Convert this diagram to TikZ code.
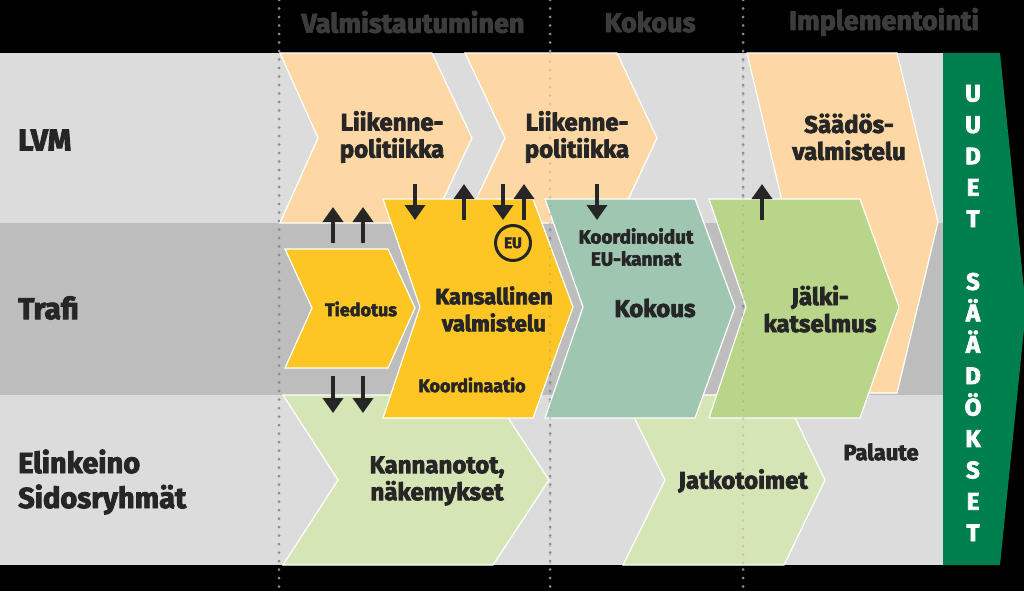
\documentclass[tikz,border=0pt]{standalone}
\usepackage{fontspec}
\setmainfont{Fira Sans}[BoldFeatures={FakeBold=3}]
\usetikzlibrary{arrows.meta}
\definecolor{lanelight}{HTML}{DCDCDC}
\definecolor{lanedark}{HTML}{BDBDBD}
\definecolor{peach}{HTML}{FDD8A4}
\definecolor{gold}{HTML}{FDC624}
\definecolor{teal}{HTML}{9EC6B1}
\definecolor{jalki}{HTML}{B8D58A}
\definecolor{pale}{HTML}{D5E5B5}
\definecolor{uudet}{HTML}{007F4E}
\definecolor{ink}{HTML}{262626}
\definecolor{headink}{HTML}{3C3C3C}
\definecolor{dotgray}{HTML}{8C8C8C}
\tikzstyle{chev}=[draw=white,line width=1.2pt,line join=miter]
\tikzstyle{phase}=[dotgray,line width=3pt,line cap=round,dash pattern=on 0pt off 8.5pt]
\tikzstyle{lanetitle}=[anchor=west,align=left,inner sep=0pt,text=ink,font=\bfseries\fontsize{30}{35}\selectfont]
\tikzstyle{head}=[inner sep=0pt,text=headink,font=\bfseries\fontsize{27}{30}\selectfont]
\tikzstyle{big}=[align=center,inner sep=0pt,text=ink,font=\bfseries\fontsize{24}{27}\selectfont]
\tikzstyle{small}=[align=center,inner sep=0pt,text=ink,font=\bfseries\fontsize{19}{22}\selectfont]
\tikzstyle{line}=[draw=ink,line width=4pt,-{Triangle[width=20pt,length=15pt]}]
\begin{document}
\begin{tikzpicture}[x=1pt,y=-1pt]
  \useasboundingbox (0,0) rectangle (1024,591);
  \fill[black] (0,0) rectangle (1024,591);
  % lanes
  \fill[lanelight] (0,53) rectangle (943,223);
  \fill[lanedark]  (0,223) rectangle (943,395);
  \fill[lanelight] (0,395) rectangle (943,565);
  \fill[uudet] (943,53) -- (1000,53) -- (1026,309) -- (1000,565) -- (943,565) -- cycle;
  % phase lines
  \draw[phase] (279,0) -- (279,591);
  \draw[phase] (550,0) -- (550,591);
  \draw[phase] (743,0) -- (743,591);
  % Elinkeino chevrons
  \draw[chev,fill=pale] (283,395) -- (493,395) -- (549,480) -- (493,565) -- (283,565) -- (338,480) -- cycle;
  \draw[chev,fill=pale] (623,395) -- (784,395) -- (825,480) -- (784,565) -- (623,565) -- (665,480) -- cycle;
  % LVM chevrons
  \draw[chev,fill=peach] (280,53) -- (432,53) -- (472,138) -- (432,223) -- (280,223) -- (318,138) -- cycle;
  \draw[chev,fill=peach] (465,53) -- (617,53) -- (657,138) -- (617,223) -- (465,223) -- (505,138) -- cycle;
  \draw[chev,fill=peach] (747,53) -- (897,53) -- (938,222) -- (897,393) -- (747,393) -- (787,222) -- cycle;
  % Trafi chevrons
  \draw[chev,fill=gold] (285,249) -- (388,249) -- (415,308) -- (388,368) -- (285,368) -- (312,308) -- cycle;
  \draw[chev,fill=gold] (383,199) -- (533,199) -- (573,307) -- (533,418) -- (383,418) -- (420,307) -- cycle;
  \draw[chev,fill=teal] (545,199) -- (695,199) -- (735,307) -- (695,418) -- (545,418) -- (583,307) -- cycle;
  \draw[chev,fill=jalki] (709,199) -- (860,199) -- (899,307) -- (860,418) -- (709,418) -- (746,307) -- cycle;
  % phase lines over the chevrons
  \draw[phase,opacity=0.3] (550,53) -- (550,565);
  \draw[phase,opacity=0.3] (743,53) -- (743,565);
  % headings
  \node[head] (valm) at (413,22) {Valmistautuminen};
  \node[head] (kokoushead) at (650,22) {Kokous};
  \node[head] (impl) at (884,22) {Implementointi};
  % lane titles
  \node[lanetitle] (LVM) at (18,140) {LVM};
  \node[lanetitle,font=\bfseries\fontsize{30}{35}\selectfont] (Trafi) at (18,308) {Trafi};
  \node[lanetitle,font=\bfseries\fontsize{29}{35}\selectfont] (Elinkeino) at (18,482) {Elinkeino\\Sidosryhmät};
  % texts in chevrons
  \node[big] (liik1) at (392,137) {Liikenne-\\politiikka};
  \node[big] (liik2) at (577,137) {Liikenne-\\politiikka};
  \node[big] (saados) at (849,137) {Säädös-\\valmistelu};
  \node[small,font=\bfseries\fontsize{18}{22}\selectfont] (tiedotus) at (361,309) {Tiedotus};
  \node[big,font=\bfseries\fontsize{22}{27}\selectfont] (kansallinen) at (494,309) {Kansallinen\\valmistelu};
  \node[small,font=\bfseries\fontsize{18}{22}\selectfont] (koord) at (472,385) {Koordinaatio};
  \node[small] (eukannat) at (636,247) {Koordinoidut\\EU-kannat};
  \node[big] (kokous) at (655,308) {Kokous};
  \node[big] (jalkikat) at (820,309) {Jälki-\\katselmus};
  \node[big] (kannanotot) at (437,481) {Kannanotot,\\näkemykset};
  \node[big] (jatko) at (743,481) {Jatkotoimet};
  \node[big,font=\bfseries\fontsize{22}{27}\selectfont] (palaute) at (881,452) {Palaute};
  \node[circle,draw=ink,line width=3pt,minimum size=35pt,inner sep=0pt,text=ink,font=\bfseries\fontsize{15}{17}\selectfont] (EU) at (513,243) {EU};
  % uudet saadokset
  \foreach \ch [count=\k from 0] in {U,U,D,E,T,{},S,Ä,Ä,D,Ö,K,S,E,T}
    \node[anchor=base,inner sep=0pt,text=white,font=\bfseries\fontsize{24}{24}\selectfont] (ud\k) at (973,101.5+31.4*\k) {\ch};
  % arrows
  \coordinate (up1start) at (333,243);  \coordinate (up1end) at (333,207);
  \coordinate (up2start) at (363,243);  \coordinate (up2end) at (363,207);
  \coordinate (dn1start) at (333,376);  \coordinate (dn1end) at (333,413);
  \coordinate (dn2start) at (363,376);  \coordinate (dn2end) at (363,413);
  \coordinate (dn3start) at (415,184);  \coordinate (dn3end) at (415,220);
  \coordinate (up3start) at (464,220);  \coordinate (up3end) at (464,184);
  \coordinate (dn4start) at (503,184);  \coordinate (dn4end) at (503,220);
  \coordinate (up4start) at (524,220);  \coordinate (up4end) at (524,184);
  \coordinate (dn5start) at (597,184);  \coordinate (dn5end) at (597,220);
  \coordinate (up5start) at (762,220);  \coordinate (up5end) at (762,184);
  \path[line] (up1start) -- (up1end);
  \path[line] (up2start) -- (up2end);
  \path[line] (dn1start) -- (dn1end);
  \path[line] (dn2start) -- (dn2end);
  \path[line] (dn3start) -- (dn3end);
  \path[line] (up3start) -- (up3end);
  \path[line] (dn4start) -- (dn4end);
  \path[line] (up4start) -- (up4end);
  \path[line] (dn5start) -- (dn5end);
  \path[line] (up5start) -- (up5end);
\end{tikzpicture}
\end{document}
